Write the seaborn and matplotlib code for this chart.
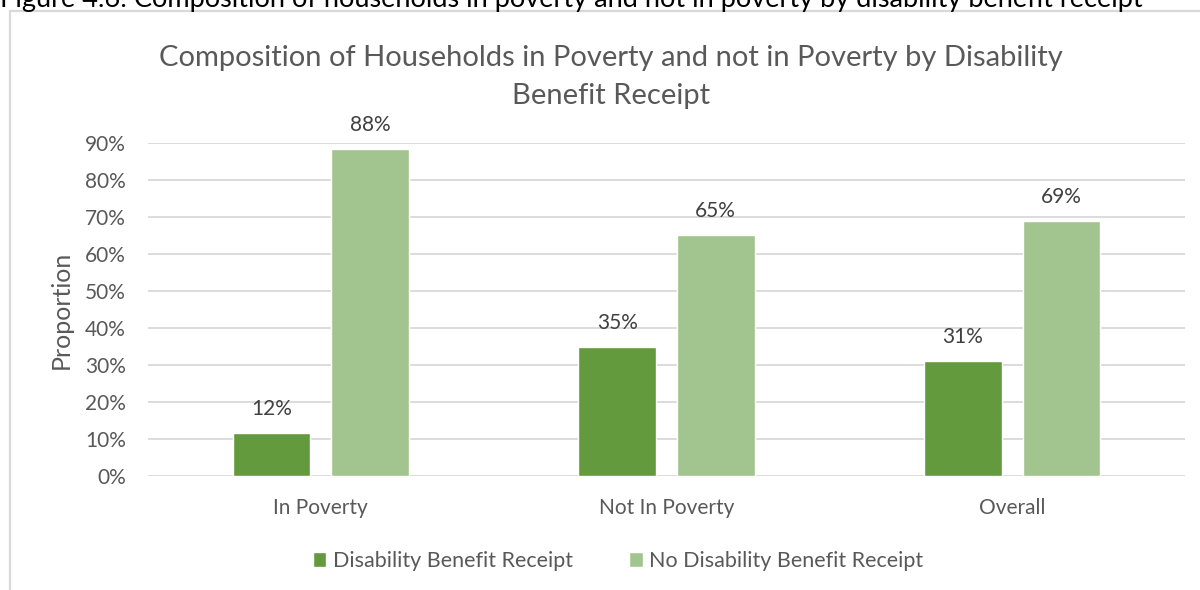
import matplotlib
matplotlib.use("Agg")
import matplotlib.pyplot as plt
from matplotlib.patches import Rectangle, Patch
from matplotlib.ticker import PercentFormatter, MultipleLocator
import seaborn as sns
import pandas as pd

# Data
categories = ["In Poverty", "Not In Poverty", "Overall"]
series_names = ["Disability Benefit Receipt", "No Disability Benefit Receipt"]
disability = [0.116, 0.349, 0.311]
no_disability = [0.884, 0.651, 0.689]

title = "Composition of Households in Poverty and not in Poverty by Disability\nBenefit Receipt"
caption = "Figure 4.6: Composition of households in poverty and not in poverty by disability benefit receipt"

df = pd.DataFrame({
    "category": categories * 2,
    "series": [series_names[0]] * 3 + [series_names[1]] * 3,
    "value": disability + no_disability,
})

DARK = "#629A3D"
LIGHT = "#A2C48F"
TEXT = "#595959"
GRID = "#D9D9D9"

sns.set_theme(style="white")
plt.rcParams["font.family"] = ["Lato", "DejaVu Sans"]

fig = plt.figure(figsize=(12, 5.9), dpi=100)
ax = fig.add_axes([148 / 1200, 1 - 476 / 590, (1185 - 148) / 1200, (476 - 143) / 590])

sns.barplot(data=df, x="category", y="value", hue="series",
            palette=[DARK, LIGHT], width=0.57, gap=0.21,
            order=categories, hue_order=series_names,
            ax=ax, legend=False, saturation=1)

ax.set_ylim(0, 0.9)
ax.yaxis.set_major_locator(MultipleLocator(0.1))
ax.yaxis.set_major_formatter(PercentFormatter(1.0, decimals=0))
ax.grid(axis="y", color=GRID, linewidth=1.3)
ax.set_axisbelow(True)
for s in ax.spines.values():
    s.set_visible(False)
ax.tick_params(axis="y", length=0, labelsize=15, colors=TEXT, pad=16)
ax.tick_params(axis="x", length=0, labelsize=15, colors=TEXT, pad=16)
ax.set_xlabel("")
ax.set_ylabel("Proportion", fontsize=18, color=TEXT, labelpad=9)

for cont in ax.containers:
    ax.bar_label(cont, labels=[f"{v:.0%}" for v in cont.datavalues],
                 padding=10, fontsize=15, color="#404040")

fig.text(0.509, 1 - 77 / 590, title, ha="center", va="center",
         fontsize=21, color=TEXT, linespacing=1.58)

handles = [Patch(facecolor=DARK, label=series_names[0]),
           Patch(facecolor=LIGHT, label=series_names[1])]
fig.legend(handles=handles, loc="center", bbox_to_anchor=(0.515, 1 - 561 / 590),
           ncol=2, frameon=False, fontsize=15.5, labelcolor=TEXT,
           handlelength=0.65, handleheight=0.65, columnspacing=2.6, handletextpad=0.3)

# Outer chart frame and the figure caption running off the top edge
fig.patches.append(Rectangle((10 / 1200, -0.05), 1.2, 1 - 11 / 590 + 0.05,
                             transform=fig.transFigure, fill=False,
                             edgecolor=GRID, linewidth=1.6))
fig.text(0.0, 1 - 7 / 590, caption, ha="left", va="baseline",
         fontsize=19.5, color="black")

fig.savefig("out.png", dpi=100)
